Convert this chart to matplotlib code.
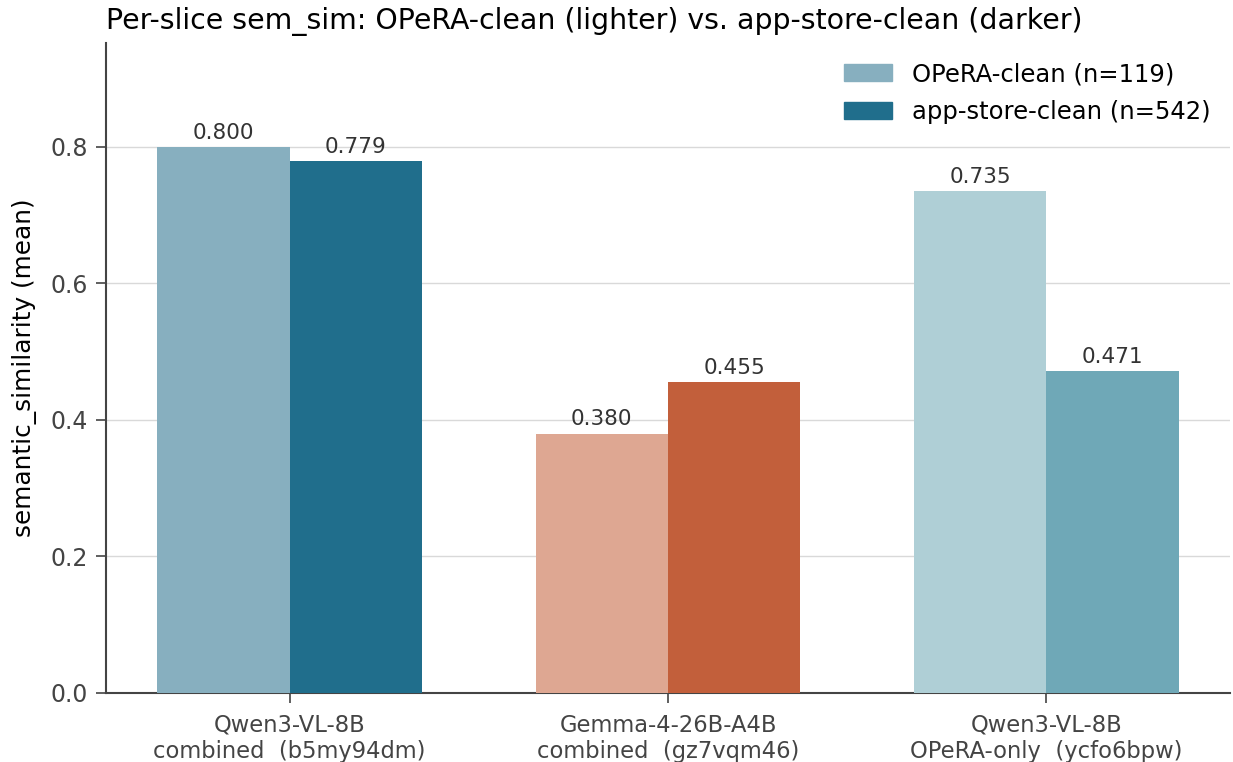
import numpy as np
import matplotlib
matplotlib.use("Agg")
import matplotlib.pyplot as plt
from matplotlib.patches import Patch

# data
groups = ["Qwen3-VL-8B\ncombined  (b5my94dm)",
          "Gemma-4-26B-A4B\ncombined  (gz7vqm46)",
          "Qwen3-VL-8B\nOPeRA-only  (ycfo6bpw)"]
opera_clean = [0.800, 0.380, 0.735]
app_store_clean = [0.779, 0.455, 0.471]
series_labels = ["OPeRA-clean (n=119)", "app-store-clean (n=542)"]

light_colors = ["#87afbf", "#dea792", "#afcfd6"]
dark_colors = ["#206e8c", "#c25f3b", "#6fa8b7"]

fig = plt.figure(figsize=(12.33, 7.62), dpi=100)
ax = fig.add_axes([106 / 1233, 69 / 762, 1124 / 1233, 650 / 762])

x = np.arange(len(groups))
w = 0.35
b1 = ax.bar(x - w / 2, opera_clean, w, color=light_colors, label=series_labels[0], zorder=3)
b2 = ax.bar(x + w / 2, app_store_clean, w, color=dark_colors, label=series_labels[1], zorder=3)

for bars, vals in [(b1, opera_clean), (b2, app_store_clean)]:
    for r, v in zip(bars, vals):
        ax.text(r.get_x() + r.get_width() / 2, v + 0.006, f"{v:.3f}",
                ha="center", va="bottom", fontsize=15.5, color="#333333", zorder=4)

ax.set_ylim(0, 0.952)
ax.set_yticks([0.0, 0.2, 0.4, 0.6, 0.8])
ax.set_xticks(x)
ax.set_xticklabels(groups, fontsize=16.3, color="#444444", linespacing=1.15)
ax.tick_params(axis="y", labelsize=17, labelcolor="#444444", length=7, width=1.2,
               color="#444444", pad=6)
ax.tick_params(axis="x", length=7, width=1.2, color="#444444", pad=8)
ax.grid(axis="y", color="#d9d9d9", linewidth=1, zorder=0)
ax.set_axisbelow(True)
for s in ["top", "right"]:
    ax.spines[s].set_visible(False)
for s in ["left", "bottom"]:
    ax.spines[s].set_color("#444444")
    ax.spines[s].set_linewidth(1.5)

ax.set_ylabel("semantic_similarity (mean)", fontsize=17.8, labelpad=10)
ax.set_title("Per-slice sem_sim: OPeRA-clean (lighter) vs. app-store-clean (darker)",
             fontsize=20.4, loc="left", x=0.0, pad=10)

handles = [Patch(color=light_colors[0]), Patch(color=dark_colors[0])]
ax.legend(handles, series_labels, loc="upper right", frameon=False, fontsize=17.5,
          handlelength=2.0, handleheight=0.7, borderaxespad=0.4, labelspacing=0.55,
          bbox_to_anchor=(1.0, 1.0))

fig.savefig("out.png", dpi=100)
